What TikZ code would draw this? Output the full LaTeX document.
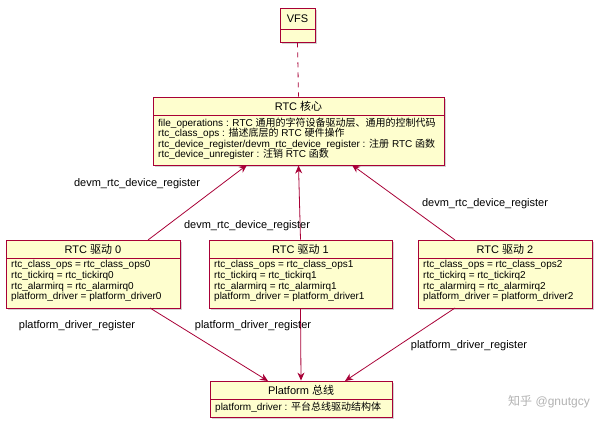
\documentclass[tikz,border=0pt]{standalone}
\usepackage{fontspec}
\setmainfont{Liberation Sans}
\newfontfamily\cjk{Noto Sans CJK SC}
\usetikzlibrary{arrows.meta,shadows}
\definecolor{umlfill}{HTML}{FEFECE}
\definecolor{umlline}{HTML}{A80036}
\tikzset{
  umlbox/.style={draw=umlline,fill=umlfill,line width=0.9pt,inner sep=0,
    drop shadow={shadow xshift=2pt,shadow yshift=-2pt,opacity=0.35}},
  ttl/.style={font=\fontsize{11}{12}\selectfont,inner sep=0,anchor=center},
  body/.style={font=\fontsize{10}{10.6}\selectfont,align=left,inner sep=0,anchor=north west},
  lbl/.style={font=\fontsize{11}{12}\selectfont,inner sep=0},
  sep/.style={draw=umlline,line width=0.8pt},
  conn/.style={draw=umlline,line width=0.8pt,-{Stealth[length=8pt,width=7pt]}},
}
\begin{document}
\begin{tikzpicture}[x=1pt,y=-1pt]
\useasboundingbox (0,0) rectangle (601,427);
% VFS
\node[umlbox,minimum width=35,minimum height=34] (vfs) at (297.5,25) {};
\node[ttl] (vfst) at (297.5,18.5) {VFS};
\draw[sep] (280,29) -- (315,29);
% core
\node[umlbox,minimum width=291,minimum height=68] (core) at (298.5,131) {};
\node[ttl] (coret) at (298.5,106) {RTC {\cjk 核心}};
\draw[sep] (153,115.5) -- (444,115.5);
\node[body] (coreb) at (158,117.5) {file\_operations : RTC {\cjk 通用的字符设备驱动层、通用的控制代码}\\
rtc\_class\_ops : {\cjk 描述底层的} RTC {\cjk 硬件操作}\\
rtc\_device\_register/devm\_rtc\_device\_register : {\cjk 注册} RTC {\cjk 函数}\\
rtc\_device\_unregister : {\cjk 注销} RTC {\cjk 函数}};
% drivers
\node[umlbox,minimum width=174,minimum height=68] (d0) at (93,274) {};
\node[ttl] (d0t) at (93,249) {RTC {\cjk 驱动} 0};
\draw[sep] (6,258.5) -- (180,258.5);
\node[body] (d0b) at (11,260.5) {rtc\_class\_ops = rtc\_class\_ops0\\rtc\_tickirq = rtc\_tickirq0\\rtc\_alarmirq = rtc\_alarmirq0\\platform\_driver = platform\_driver0};
\node[umlbox,minimum width=183,minimum height=68] (d1) at (300.5,274) {};
\node[ttl] (d1t) at (300.5,249) {RTC {\cjk 驱动} 1};
\draw[sep] (209,258.5) -- (392,258.5);
\node[body] (d1b) at (214,260.5) {rtc\_class\_ops = rtc\_class\_ops1\\rtc\_tickirq = rtc\_tickirq1\\rtc\_alarmirq = rtc\_alarmirq1\\platform\_driver = platform\_driver1};
\node[umlbox,minimum width=174,minimum height=68] (d2) at (505,274) {};
\node[ttl] (d2t) at (505,249) {RTC {\cjk 驱动} 2};
\draw[sep] (418,258.5) -- (592,258.5);
\node[body] (d2b) at (423,260.5) {rtc\_class\_ops = rtc\_class\_ops2\\rtc\_tickirq = rtc\_tickirq2\\rtc\_alarmirq = rtc\_alarmirq2\\platform\_driver = platform\_driver2};
% platform
\node[umlbox,minimum width=182,minimum height=36] (pf) at (301,399) {};
\node[ttl] (pft) at (301,390) {Platform {\cjk 总线}};
\draw[sep] (210,399.5) -- (392,399.5);
\node[body] (pfb) at (215,402) {platform\_driver : {\cjk 平台总线驱动结构体}};
% connectors
\draw[sep,dashed,dash pattern=on 5pt off 5pt] (vfs.south) -- (core.north);
\coordinate (c0) at (247,165); \coordinate (c2) at (352,165);
\coordinate (s0) at (148,240); \coordinate (s2) at (455,240);
\draw[conn] (s0) -- (c0);
\draw[conn] (d1.north) -- (core.south);
\draw[conn] (s2) -- (c2);
\coordinate (b0) at (150,308); \coordinate (b2) at (455,308);
\coordinate (p0) at (268,381); \coordinate (p2) at (345,381);
\draw[conn] (b0) -- (p0);
\draw[conn] (d1.south) -- (pf.north);
\draw[conn] (b2) -- (p2);
% labels
\node[lbl] (l1) at (137,184) {devm\_rtc\_device\_register};
\node[lbl] (l2) at (247,226) {devm\_rtc\_device\_register};
\node[lbl] (l3) at (485,204) {devm\_rtc\_device\_register};
\node[lbl] (l4) at (77,326) {platform\_driver\_register};
\node[lbl] (l5) at (253,326) {platform\_driver\_register};
\node[lbl] (l6) at (469,346) {platform\_driver\_register};
\node[font=\fontsize{12}{14}\selectfont,text=gray!60,inner sep=0] (wm) at (549,402) {{\cjk 知乎} @gnutgcy};
\end{tikzpicture}
\end{document}
